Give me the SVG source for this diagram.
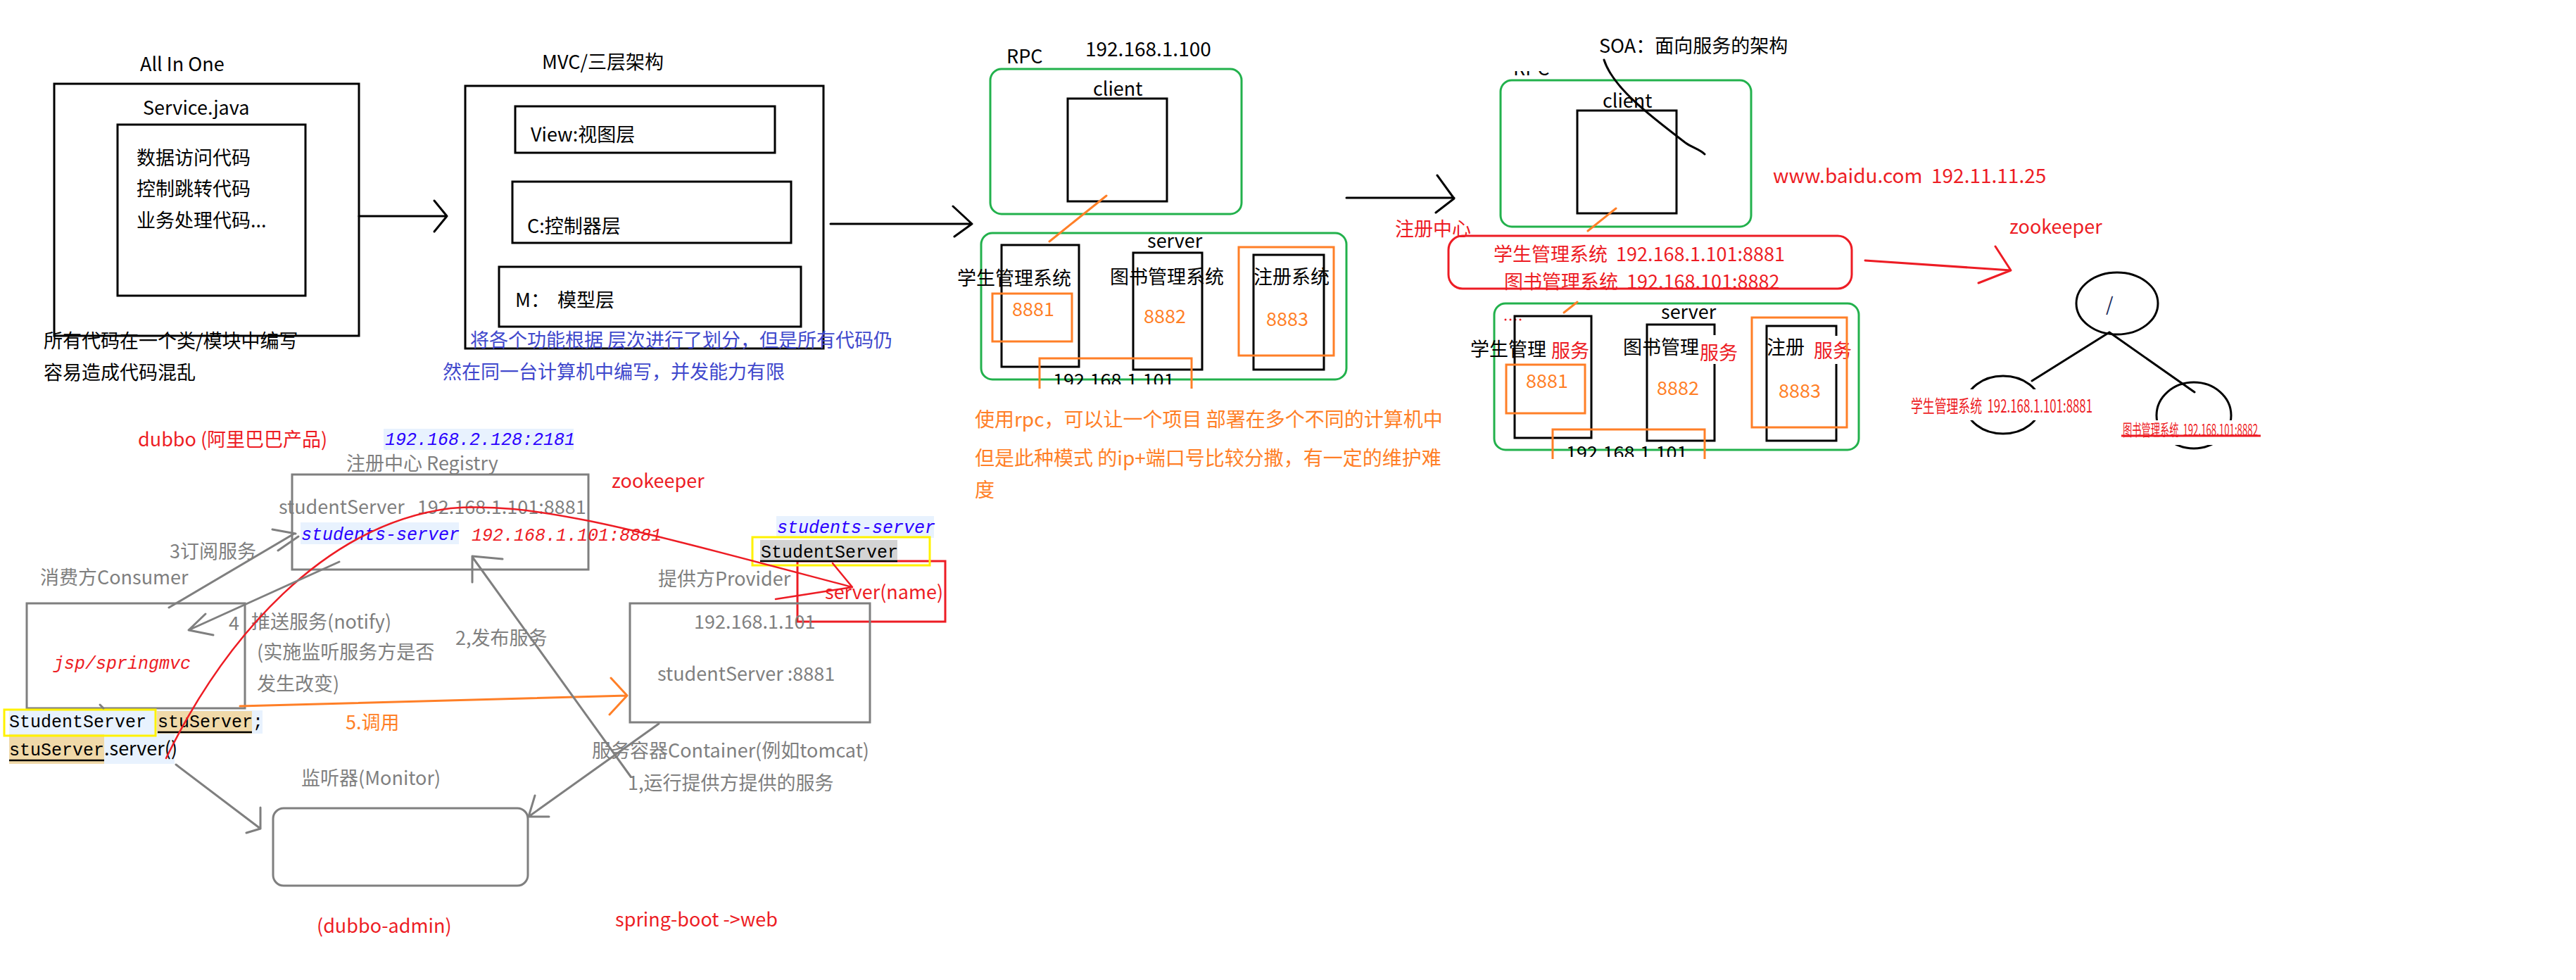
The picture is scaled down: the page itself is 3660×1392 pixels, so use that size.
<svg xmlns="http://www.w3.org/2000/svg" width="3660" height="1392" viewBox="0 0 3660 1392">
<defs>
<style>
text{font-family:"Noto Sans CJK SC","Noto Sans",sans-serif;font-size:27px;fill:#000;white-space:pre}
.g{fill:#7f7f7f}
.r{fill:#ed1c24}
.o{fill:#ff7f27}
.b{fill:#3f48cc}
.m{font-family:"Liberation Mono",monospace;font-size:25px}
.mi{font-family:"Liberation Mono",monospace;font-size:25px;font-style:italic}
.bl{fill:#2a00ff}
.bk{fill:none;stroke:#000;stroke-width:3}
.gr{fill:none;stroke:#22b14c;stroke-width:3}
.or{fill:none;stroke:#ff7f27;stroke-width:3}
.rd{fill:none;stroke:#ed1c24;stroke-width:3}
.gy{fill:none;stroke:#7f7f7f;stroke-width:3}
.yl{fill:none;stroke:#fff200;stroke-width:3}
.wb{fill:#fff}
.lb{fill:#e8f2fe}
.tan{fill:#f0d9a9}
</style>
<clipPath id="c1"><rect x="1380" y="500" width="400" height="46"/></clipPath>
<clipPath id="c2"><rect x="2150" y="600" width="320" height="49"/></clipPath>
<clipPath id="c3"><rect x="2140" y="101" width="80" height="7"/></clipPath>
</defs>
<rect width="3660" height="1392" fill="#fff"/>

<g id="all-in-one">
<text x="199" y="101">All In One</text>
<rect class="bk" x="77" y="119" width="433" height="358"/>
<text x="203" y="163">Service.java</text>
<rect class="bk" x="167" y="177" width="267" height="243"/>
<text x="194" y="234">数据访问代码</text>
<text x="194" y="278">控制跳转代码</text>
<text x="194" y="323">业务处理代码...</text>
<text x="62" y="494">所有代码在一个类/模块中编写</text>
<text x="62" y="539">容易造成代码混乱</text>
</g>

<g id="mvc">
<text x="770" y="98">MVC/三层架构</text>
<rect class="bk" x="661" y="122" width="509" height="373"/>
<rect class="bk" x="732" y="151" width="369" height="66"/>
<text x="754" y="201">View:视图层</text>
<rect class="bk" x="728" y="258" width="396" height="87"/>
<text x="749" y="331">C:控制器层</text>
<rect class="bk" x="709" y="379" width="429" height="85"/>
<text x="732" y="436">M：</text>
<text x="792" y="436">模型层</text>
<text class="b" x="668" y="493">将各个功能根据 层次进行了划分，但是所有代码仍</text>
<text class="b" x="629" y="538">然在同一台计算机中编写，并发能力有限</text>
</g>

<g id="rpc">
<text x="1430" y="90">RPC</text>
<text x="1542" y="80" style="font-size:28px">192.168.1.100</text>
<rect class="gr" x="1407" y="98" width="357" height="206" rx="16"/>
<text x="1553" y="136">client</text>
<rect class="bk" x="1517" y="140" width="141" height="146"/>
<rect class="gr" x="1394" y="331" width="519" height="208" rx="16"/>
<text x="1630" y="352">server</text>
<rect class="bk" x="1423" y="348" width="110" height="173"/>
<text x="1360" y="405">学生管理系统</text>
<rect class="or" x="1410" y="417" width="113" height="68"/>
<text class="o" x="1438" y="449">8881</text>
<rect class="bk" x="1610" y="359" width="98" height="166"/>
<text x="1577" y="403">图书管理系统</text>
<text class="o" x="1625" y="459">8882</text>
<rect class="bk" x="1781" y="362" width="100" height="163"/>
<text x="1781" y="403">注册系统</text>
<text class="o" x="1799" y="463">8883</text>
<rect class="or" x="1760" y="351" width="135" height="154"/>
<path class="or" d="M1477,552 V509 H1693 V552"/>
<text x="1496" y="550" clip-path="url(#c1)">192.168.1.101</text>
<text class="o" x="1385" y="606" style="font-size:28px">使用rpc，可以让一个项目 部署在多个不同的计算机中</text>
<text class="o" x="1385" y="661" style="font-size:28px">但是此种模式 的ip+端口号比较分撒，有一定的维护难</text>
<text class="o" x="1385" y="706" style="font-size:28px">度</text>
</g>

<g id="soa">
<text x="2272" y="75">SOA：面向服务的架构</text>
<text x="2150" y="107" clip-path="url(#c3)">RPC</text>
<text class="r" x="1982" y="335">注册中心</text>
<rect class="gr" x="2132" y="114" width="356" height="208" rx="16"/>
<text x="2277" y="153">client</text>
<rect class="bk" x="2241" y="157" width="141" height="146"/>
<text class="r" x="2519" y="260" style="font-size:28px" xml:space="preserve">www.baidu.com  192.11.11.25</text>
<text class="r" x="2122" y="371" xml:space="preserve">学生管理系统  192.168.1.101:8881</text>
<text class="r" x="2137" y="410" xml:space="preserve">图书管理系统  192.168.101:8882</text>
<rect class="rd" x="2058" y="335" width="573" height="75" rx="20"/>
<text class="r" x="2855" y="332">zookeeper</text>
<rect class="gr" x="2123" y="431" width="518" height="208" rx="16"/>
<g fill="#ed1c24"><circle cx="2139" cy="454" r="1.5"/><circle cx="2146" cy="454" r="1.5"/><circle cx="2153" cy="454" r="1.5"/><circle cx="2160" cy="454" r="1.5"/></g>
<text x="2360" y="453">server</text>
<rect class="bk" x="2152" y="449" width="109" height="173"/>
<text x="2089" y="506">学生管理</text>
<text class="r" x="2204" y="508">服务</text>
<rect class="or" x="2140" y="518" width="112" height="69"/>
<text class="o" x="2168" y="551">8881</text>
<rect class="bk" x="2340" y="461" width="96" height="165"/>
<text x="2306" y="503">图书管理</text>
<rect class="wb" x="2414" y="476" width="54" height="41"/>
<text class="r" x="2415" y="511">服务</text>
<text class="o" x="2354" y="561">8882</text>
<rect class="bk" x="2510" y="463" width="99" height="163"/>
<text x="2510" y="503">注册</text>
<rect class="wb" x="2576" y="477" width="54" height="40"/>
<text class="r" x="2577" y="508">服务</text>
<text class="o" x="2527" y="565">8883</text>
<rect class="or" x="2489" y="451" width="135" height="156"/>
<path class="or" d="M2206,652 V610 H2422 V652"/>
<text x="2225" y="653" clip-path="url(#c2)">192.168.1.101</text>
</g>

<g id="zookeeper-tree">
<ellipse class="bk" cx="3008" cy="431" rx="58" ry="44"/>
<text x="2992" y="442" style="fill:#1a2a5a">/</text>
<ellipse class="bk" cx="2846" cy="575" rx="53" ry="41"/>
<ellipse class="bk" cx="3117" cy="590" rx="53" ry="47"/>
<rect class="wb" x="2712" y="553" width="263" height="44"/>
<text class="r" x="2715" y="586" style="font-size:25px" textLength="258" lengthAdjust="spacingAndGlyphs" xml:space="preserve">学生管理系统  192.168.1.101:8881</text>
<rect class="wb" x="3012" y="597" width="205" height="35"/>
<text class="r" x="3016" y="619" style="font-size:23px" textLength="192" lengthAdjust="spacingAndGlyphs" xml:space="preserve">图书管理系统  192.168.101:8882</text>
<line x1="3014" y1="619" x2="3212" y2="619" stroke="#ed1c24" stroke-width="3"/>
</g>

<g id="registry">
<rect class="lb" x="545" y="609" width="270" height="30"/>
<text class="mi bl" x="547" y="632">192.168.2.128:2181</text>
<text class="g" x="492" y="668">注册中心 Registry</text>
<rect class="gy" x="415" y="674" width="421" height="135"/>
<text class="g" x="396" y="730" xml:space="preserve">studentServer   192.168.1.101:8881</text>
<rect class="lb" x="427" y="742" width="225" height="31"/>
<text class="mi bl" x="428" y="767">students-server</text>
<text class="mi r" x="670" y="768">192.168.1.101:8881</text>
<text class="r" x="869" y="693">zookeeper</text>
</g>

<g id="consumer">
<text class="r" x="196" y="634">dubbo (阿里巴巴产品)</text>
<text class="g" x="57" y="830">消费方Consumer</text>
<rect class="gy" x="38" y="857" width="310" height="149"/>
<text class="mi r" x="76" y="950">jsp/springmvc</text>
<rect class="lb" x="13" y="1009" width="360" height="33"/>
<rect class="lb" x="13" y="1042" width="235" height="43"/>
<rect class="tan" x="223" y="1010" width="135" height="32"/>
<rect class="tan" x="13" y="1043" width="135" height="42"/>
<text class="m" x="13" y="1033">StudentServer</text>
<text class="m" x="224" y="1033">stuServer;</text>
<text class="m" x="13" y="1073">stuServer</text>
<text x="148" y="1073">.server()</text>
<line x1="224" y1="1040" x2="358" y2="1040" stroke="#000" stroke-width="2.5"/>
<line x1="13" y1="1080" x2="148" y2="1080" stroke="#000" stroke-width="2.5"/>
<rect class="yl" x="6" y="1008" width="215" height="37"/>
</g>

<g id="provider">
<rect class="rd" x="1133" y="797" width="210" height="86"/>
<text class="r" x="1172" y="851">server(name)</text>
<rect class="lb" x="1103" y="733" width="224" height="31"/>
<text class="mi bl" x="1104" y="757">students-server</text>
<rect x="1080" y="767" width="195" height="30" fill="#d4d4d4"/>
<text class="m" x="1081" y="792">StudentServer</text>
<line x1="1080" y1="797" x2="1275" y2="797" stroke="#000" stroke-width="2.5"/>
<rect class="yl" x="1069" y="763" width="252" height="40"/>
<text class="g" x="935" y="832">提供方Provider</text>
<rect class="gy" x="895" y="857" width="341" height="169"/>
<text class="g" x="986" y="893">192.168.1.101</text>
<text class="g" x="934" y="967">studentServer :8881</text>
<text class="g" x="841" y="1076">服务容器Container(例如tomcat)</text>
<text class="g" x="892" y="1122">1,运行提供方提供的服务</text>
</g>

<g id="monitor">
<text class="g" x="428" y="1115">监听器(Monitor)</text>
<rect class="gy" x="388" y="1148" width="362" height="110" rx="15"/>
<text class="r" x="450" y="1325">(dubbo-admin)</text>
<text class="r" x="874" y="1316">spring-boot -&gt;web</text>
</g>

<g id="labels">
<text class="g" x="241" y="793">3订阅服务</text>
<text class="g" x="325" y="895">4</text>
<text class="g" x="357" y="893">推送服务(notify)</text>
<text class="g" x="365" y="936">(实施监听服务方是否</text>
<text class="g" x="365" y="981">发生改变)</text>
<text class="g" x="647" y="916">2,发布服务</text>
<text class="o" x="491" y="1036">5.调用</text>
</g>

<g id="connectors" fill="none" stroke-linecap="round" stroke-linejoin="round">
<g stroke="#000" stroke-width="3">
<path d="M510,307 H635 M617,285 L635,307 L617,329"/>
<path d="M1180,318 H1381 M1354,293 L1381,318 L1356,336"/>
<path d="M1913,281 H2066 M2042,249 L2066,282 L2040,302"/>
<path d="M2279,85 C2292,125 2345,165 2395,203 C2405,210 2415,212 2422,219"/>
<path d="M2997,472 L2887,541 M2997,472 L3118,557"/>
</g>
<g stroke="#ff7f27" stroke-width="3">
<path d="M1572,278 L1491,343"/>
<path d="M2296,296 L2256,328"/>
<path d="M2222,444 L2241,429"/>
<path d="M341,1003 L891,988 M868,963 L891,988 L866,1015"/>
</g>
<path stroke="#ed1c24" stroke-width="3" d="M2650,370 L2857,384 M2835,350 L2857,384 L2811,402"/>
<path stroke="#ed1c24" stroke-width="2.5" d="M236,1077 C320,905 460,745 640,722 C760,712 900,752 1211,834 M1183,800 L1211,834 L1102,851"/>
<g stroke="#7f7f7f" stroke-width="3">
<path d="M240,863 L418,758 M387,752 L420,758 M395,782 L424,762"/>
<path d="M482,798 L268,895 M292,872 L268,895 L303,902"/>
<path d="M671,791 L896,1103 M714,794 L671,790 L671,827"/>
<path d="M936,1028 L751,1160 M760,1130 L751,1160 L780,1160"/>
<path d="M250,1086 L370,1177 M370,1147 L370,1177 L350,1183"/>
<path d="M142,1001 L147,1006"/>
</g>
</g>
</svg>
